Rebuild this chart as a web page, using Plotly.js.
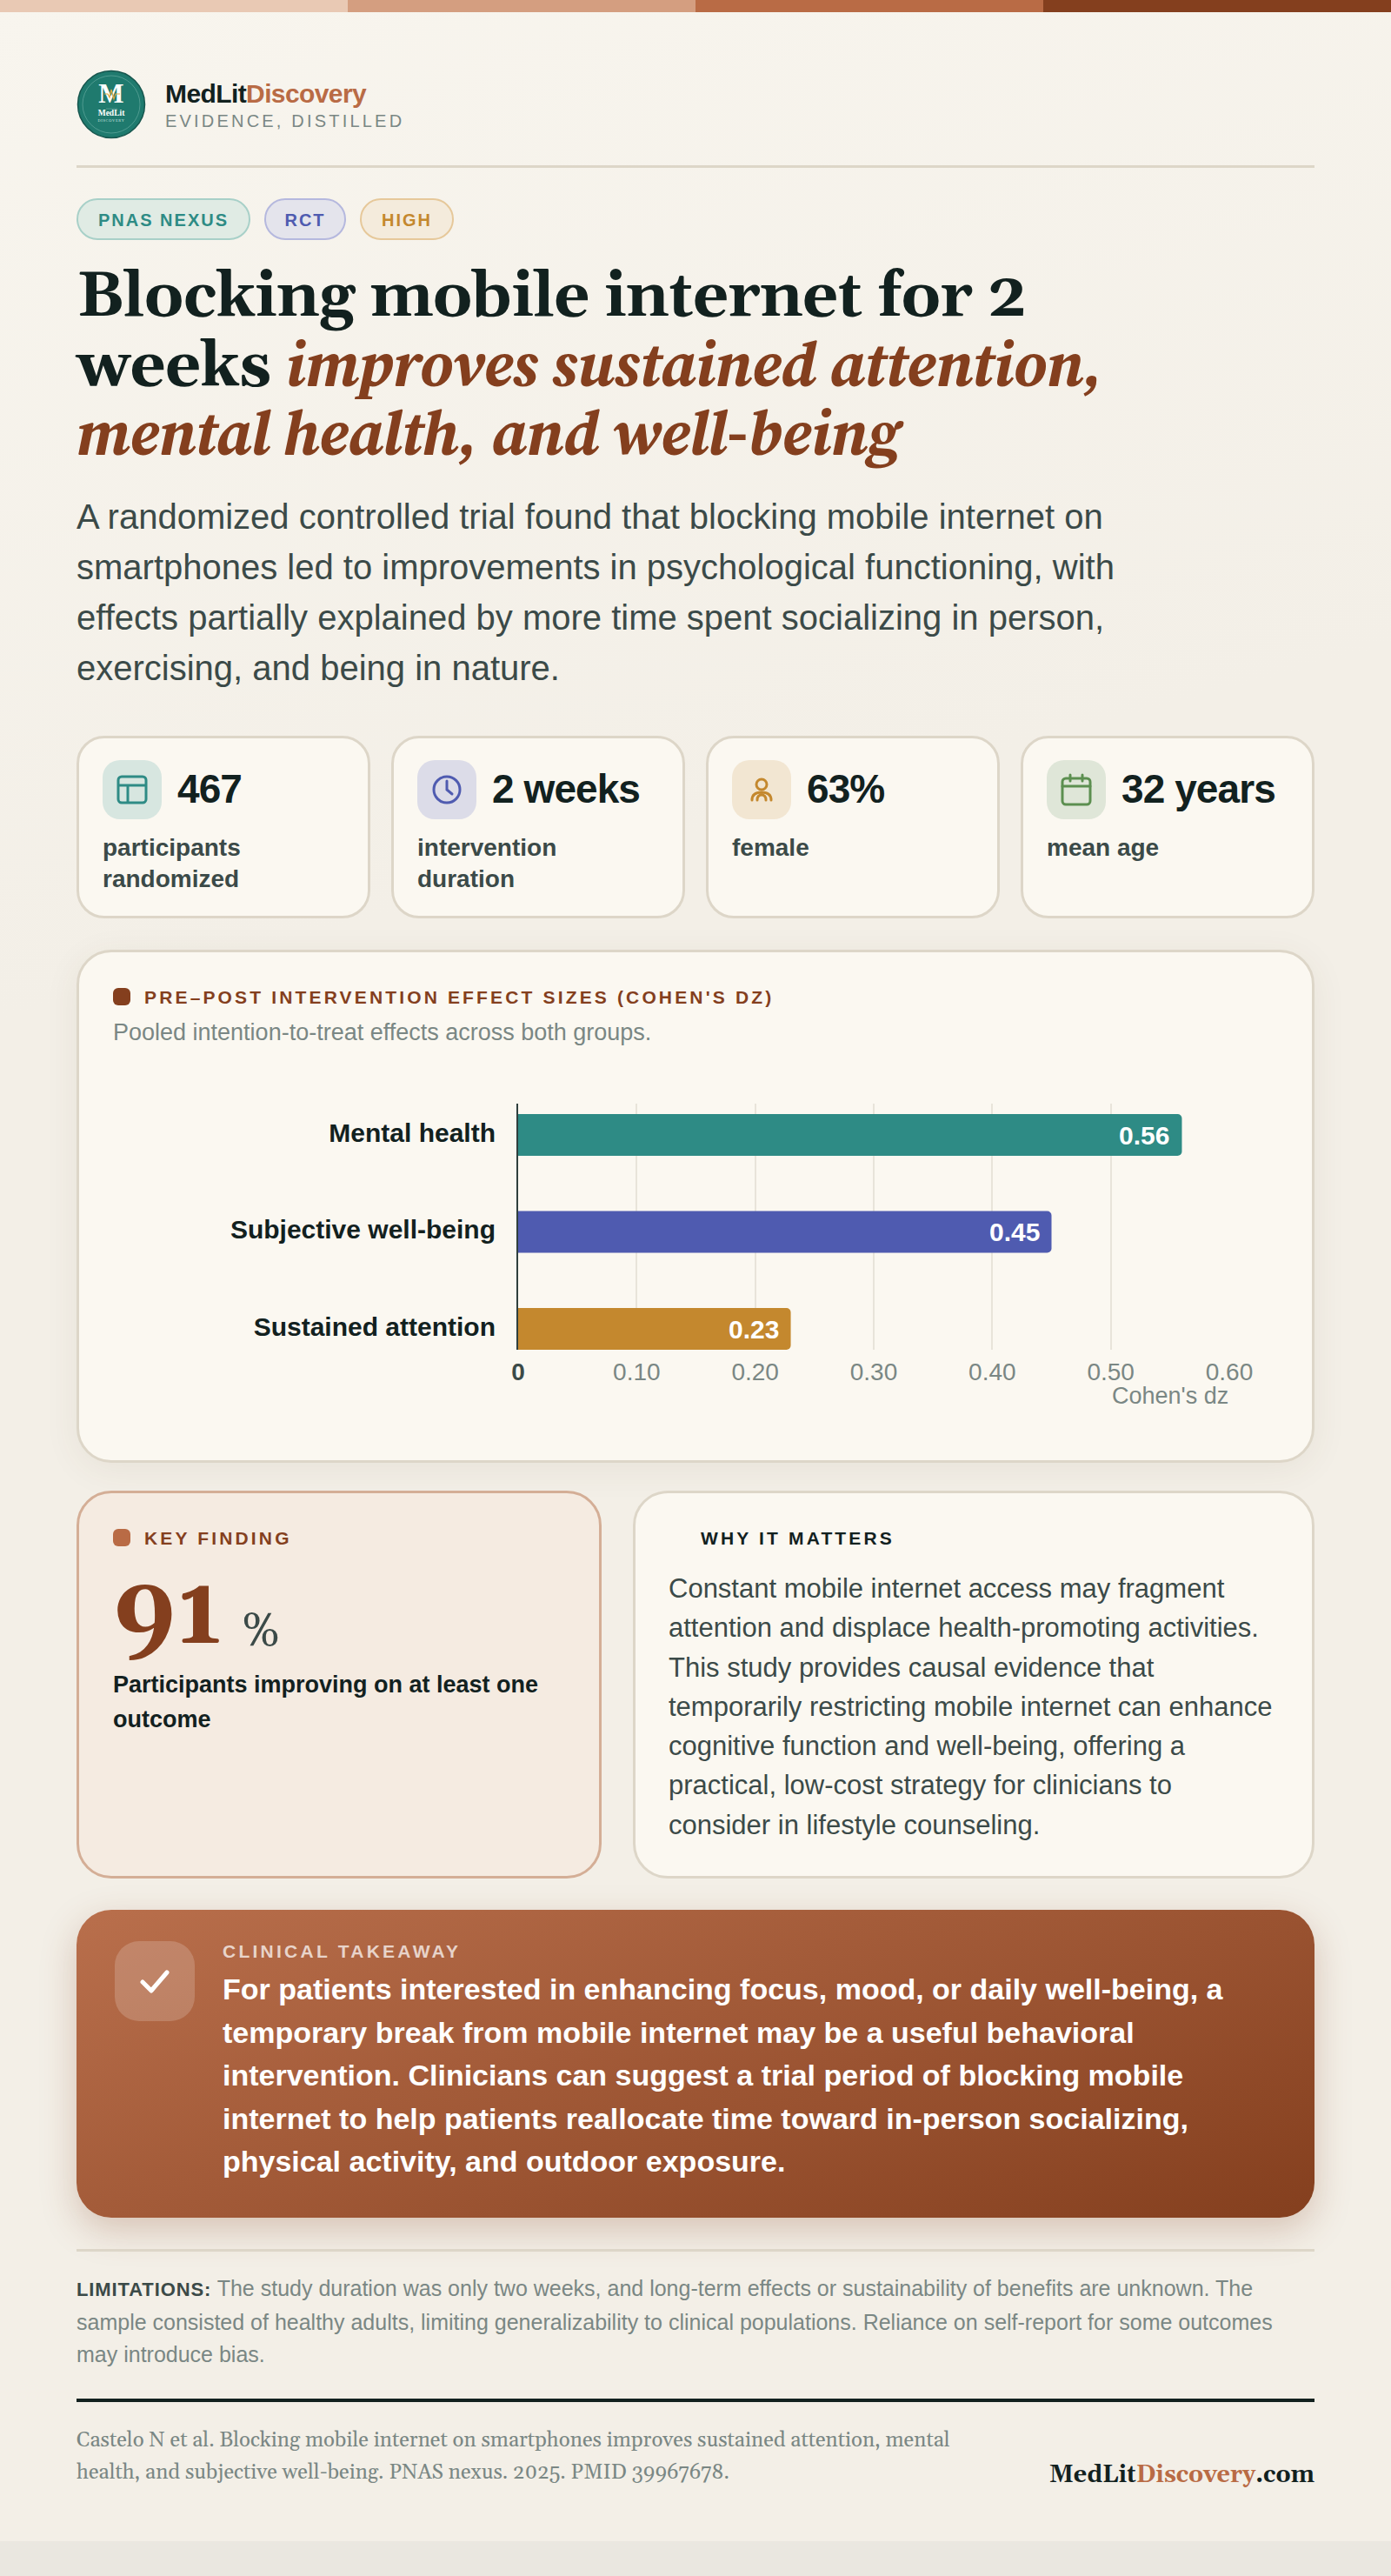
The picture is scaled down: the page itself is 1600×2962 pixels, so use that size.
<!DOCTYPE html>
<html lang="en">
<head>
<meta charset="utf-8">
<title>MedLitDiscovery - Blocking mobile internet</title>
<script src="https://cdn.plot.ly/plotly-3.0.1.min.js"></script>
<style>
  :root {
    --ink: #12211f; --body: #3b4a48; --muted: #7a8784; --line: #ddd6c8;
    --card: #fbf8f1; --rust: #843f1e; --clay: #b96b45;
    --teal: #2e8b85; --indigo: #4f5bb0; --amber: #c4882e; --green: #5c8f50;
    --sans: "Liberation Sans", Arial, sans-serif;
    --serif: Gelasio, Georgia, "Liberation Serif", serif;
  }
  * { box-sizing: border-box; }
  html, body { margin: 0; background: #eae7e0; font-family: var(--sans); }
  .page { position: relative; width: 1600px; height: 2922px; overflow: hidden;
          background: linear-gradient(165deg, #f8f5ee 0%, #f3efe7 35%, #f3efe7 100%); }
  .abs { position: absolute; }
  .bar { left: 0; top: 0; width: 1600px; height: 14px; display: flex; }
  .bar i { flex: 1; }

  .brand { left: 190px; top: 87px; font: bold 30px/42px var(--sans); letter-spacing: -0.02em; color: var(--ink); }
  .brand b { color: var(--clay); }
  .tagline { left: 190px; top: 126px; font: 20px/26px var(--sans); letter-spacing: 0.16em; color: var(--muted); }
  .rule { left: 88px; width: 1424px; height: 3px; background: var(--line); }

  .badge { top: 228px; height: 48px; border-radius: 24px; border: 2px solid; font: bold 20px/46px var(--sans);
           letter-spacing: 0.1em; text-align: center; }

  h1 { margin: 0; left: 88px; top: 303px; width: 1360px; font: bold 72px/79.5px var(--serif); letter-spacing: -0.01em; color: var(--ink); white-space: nowrap; }
  h1 em { color: var(--rust); font-family: "Source Serif 4", var(--serif); font-style: italic; font-weight: 700; line-height: 0; letter-spacing: -0.005em; }
  .lede { left: 88px; top: 565px; margin: 0; font: 40px/58px var(--sans); color: var(--body); white-space: nowrap; }

  .stat { top: 846px; width: 338px; height: 210px; background: var(--card); border: 3px solid var(--line); border-radius: 32px; }
  .stat .ico { position: absolute; left: 27px; top: 25px; width: 68px; height: 68px; border-radius: 20px;
               display: flex; align-items: center; justify-content: center; }
  .stat .num { position: absolute; left: 113px; top: 30px; font: bold 46px/56px var(--sans); letter-spacing: -0.02em; color: var(--ink); white-space: nowrap; }
  .stat .lab { position: absolute; left: 27px; top: 108px; font: bold 28px/36px var(--sans); color: var(--body); }

  .card { background: var(--card); border: 3px solid var(--line); border-radius: 40px; box-shadow: 0 8px 40px rgba(90, 70, 40, .07); }
  .dot { position: absolute; width: 20px; height: 20px; border-radius: 6px; }
  .eyebrow { position: absolute; font: bold 21px/28px var(--sans); letter-spacing: 0.15em; white-space: nowrap; }
  #chart { left: 90px; top: 1230px; width: 1420px; height: 420px; }

  .big { left: 130px; top: 1786px; font: bold 112px/140px var(--serif); color: var(--rust); }
  .pct { left: 278px; top: 1841px; font: 54px/70px var(--serif); color: var(--body); }
  .kdesc { left: 130px; top: 1917px; width: 530px; font: bold 27px/40px var(--sans); color: var(--ink); }
  .why { left: 769px; top: 1804px; width: 710px; font: 31px/45.3px var(--sans); color: var(--body); white-space: nowrap; }

  .take { left: 88px; top: 2196px; width: 1424px; height: 354px; border-radius: 40px;
          background: linear-gradient(160deg, #b96f4c 0%, #843f1e 100%);
          box-shadow: 0 14px 40px rgba(132, 63, 30, .25); }
  .tick { position: absolute; left: 44px; top: 36px; width: 92px; height: 92px; border-radius: 28px; background: rgba(255,255,255,.18);
          display: flex; align-items: center; justify-content: center; }
  .tlabel { position: absolute; left: 168px; top: 34px; font: bold 21px/28px var(--sans); letter-spacing: 0.155em; color: rgba(255,255,255,.72); }
  .ttext { position: absolute; left: 168px; top: 67px; font: bold 34px/49.5px var(--sans); color: #fff; white-space: nowrap; }

  .limits { left: 88px; top: 2613px; font: 25px/37.5px var(--sans); color: var(--muted); white-space: nowrap; }
  .limits b { font-size: 22px; letter-spacing: 0.04em; color: var(--body); }
  .cite { left: 88px; top: 2788px; font: 24px/37px var(--serif); color: var(--muted); white-space: nowrap; }
  .site { right: 88px; top: 2827px; font: bold 27px/38px var(--serif); color: var(--ink); }
  .site b { color: var(--clay); }
</style>
</head>
<body>
<div class="page">
  <div class="abs bar"><i style="background:#e9c9b4"></i><i style="background:#d49e80"></i><i style="background:#b96b45"></i><i style="background:#843f1e"></i></div>

  <svg class="abs" style="left:88px;top:80px" width="80" height="80" viewBox="0 0 80 80">
    <circle cx="40" cy="40" r="38.5" fill="#1f7a6e" stroke="#17564e" stroke-width="1.5"/>
    <circle cx="40" cy="40" r="33" fill="none" stroke="#6fb0a6" stroke-width=".6"/>
    <text x="40" y="38" text-anchor="middle" font-family="Liberation Serif" font-weight="bold" font-size="31" fill="#fff">M</text>
    <polyline points="32,28 36,28 38,32 40,23 43,34 45,28 50,28" fill="none" stroke="#e0a83c" stroke-width="1.2"/>
    <path d="M34 45H47" stroke="#6fb0a6" stroke-width=".6"/>
    <text x="40" y="53" text-anchor="middle" font-family="Liberation Serif" font-weight="bold" font-size="9.5" fill="#fff">MedLit</text>
    <text x="40" y="60" text-anchor="middle" font-family="Liberation Serif" font-size="4.4" letter-spacing=".7" fill="#d5e8e3">DISCOVERY</text>
  </svg>
  <div class="abs brand">MedLit<b style="font-weight:bold">Discovery</b></div>
  <div class="abs tagline">EVIDENCE, DISTILLED</div>
  <div class="abs rule" style="top:190px"></div>

  <div class="abs badge" style="left:88px;width:200px;color:#2e8b85;background:#e0ebe4;border-color:#a8d0c8">PNAS NEXUS</div>
  <div class="abs badge" style="left:304px;width:94px;color:#4f5bb0;background:#e4e4ec;border-color:#b5b8de">RCT</div>
  <div class="abs badge" style="left:414px;width:108px;color:#c4882e;background:#f4ebdc;border-color:#e6c89a">HIGH</div>

  <h1 class="abs">Blocking mobile internet for 2<br>weeks <em>improves sustained attention,<br>mental health, and well-being</em></h1>
  <p class="abs lede">A randomized controlled trial found that blocking mobile internet on<br>smartphones led to improvements in psychological functioning, with<br>effects partially explained by more time spent socializing in person,<br>exercising, and being in nature.</p>

  <div class="abs stat" style="left:88px">
    <div class="ico" style="background:#d7e6e0"><svg width="40" height="40" viewBox="0 0 40 40" fill="none" stroke="#2e8b85" stroke-width="3"><rect x="4" y="5" width="32" height="30" rx="4"/><path d="M4 15H36M15 15V35"/></svg></div>
    <div class="num">467</div><div class="lab">participants<br>randomized</div>
  </div>
  <div class="abs stat" style="left:450px">
    <div class="ico" style="background:#dcdce8"><svg width="40" height="40" viewBox="0 0 40 40" fill="none" stroke="#4f5bb0" stroke-width="3" stroke-linecap="round"><circle cx="20" cy="20" r="15"/><path d="M20 10V20L26 25"/></svg></div>
    <div class="num">2 weeks</div><div class="lab">intervention<br>duration</div>
  </div>
  <div class="abs stat" style="left:812px">
    <div class="ico" style="background:#f2e6d2"><svg width="40" height="40" viewBox="0 0 40 40" fill="none" stroke="#c4882e" stroke-width="3" stroke-linecap="round"><circle cx="20" cy="14" r="6"/><path d="M9 32C9 25 14 23 20 23S31 25 31 32M15 32C15 28 17 26 20 26S25 28 25 32"/></svg></div>
    <div class="num">63%</div><div class="lab">female</div>
  </div>
  <div class="abs stat" style="left:1174px">
    <div class="ico" style="background:#dfe6d8"><svg width="40" height="40" viewBox="0 0 40 40" fill="none" stroke="#5c8f50" stroke-width="3" stroke-linecap="round"><rect x="4" y="7" width="32" height="30" rx="4"/><path d="M4 16H36M13 3V10M27 3V10"/></svg></div>
    <div class="num">32 years</div><div class="lab">mean age</div>
  </div>

  <div class="abs card" style="left:88px;top:1092px;width:1424px;height:590px">
    <span class="dot" style="left:39px;top:41px;background:var(--rust)"></span>
    <span class="eyebrow" style="left:75px;top:38px;color:var(--rust)">PRE–POST INTERVENTION EFFECT SIZES (COHEN'S DZ)</span>
    <span class="abs" style="left:39px;top:74px;font:27px/36px var(--sans);color:var(--muted)">Pooled intention-to-treat effects across both groups.</span>
  </div>
  <div class="abs" id="chart"></div>

  <div class="abs card" style="left:88px;top:1714px;width:604px;height:446px;background:#f5ebe1;border-color:#d4ae96;box-shadow:none">
    <span class="dot" style="left:39px;top:41px;background:var(--clay)"></span>
    <span class="eyebrow" style="left:75px;top:38px;color:var(--rust)">KEY FINDING</span>
  </div>
  <div class="abs big">91</div>
  <div class="abs pct">%</div>
  <div class="abs kdesc">Participants improving on at least one outcome</div>

  <div class="abs card" style="left:728px;top:1714px;width:784px;height:446px;box-shadow:none">
    <span class="eyebrow" style="left:75px;top:38px;color:var(--ink)">WHY IT MATTERS</span>
  </div>
  <div class="abs why">Constant mobile internet access may fragment<br>attention and displace health-promoting activities.<br>This study provides causal evidence that<br>temporarily restricting mobile internet can enhance<br>cognitive function and well-being, offering a<br>practical, low-cost strategy for clinicians to<br>consider in lifestyle counseling.</div>

  <div class="abs take">
    <div class="tick"><svg width="44" height="44" viewBox="0 0 44 44" fill="none" stroke="#fff" stroke-width="5" stroke-linecap="round" stroke-linejoin="round"><path d="M8 23L18 33L36 12"/></svg></div>
    <div class="tlabel">CLINICAL TAKEAWAY</div>
    <div class="ttext">For patients interested in enhancing focus, mood, or daily well-being, a<br>temporary break from mobile internet may be a useful behavioral<br>intervention. Clinicians can suggest a trial period of blocking mobile<br>internet to help patients reallocate time toward in-person socializing,<br>physical activity, and outdoor exposure.</div>
  </div>

  <div class="abs rule" style="top:2586px"></div>
  <div class="abs limits"><b>LIMITATIONS:</b> The study duration was only two weeks, and long-term effects or sustainability of benefits are unknown. The<br>sample consisted of healthy adults, limiting generalizability to clinical populations. Reliance on self-report for some outcomes<br>may introduce bias.</div>
  <div class="abs rule" style="top:2758px;height:4px;background:var(--ink)"></div>
  <div class="abs cite">Castelo N et al. Blocking mobile internet on smartphones improves sustained attention, mental<br>health, and subjective well-being. PNAS nexus. 2025. PMID 39967678.</div>
  <div class="abs site">MedLit<b>Discovery</b>.com</div>
</div>

<script>
  // Effect sizes
  const outcomes = ["Mental health", "Subjective well-being", "Sustained attention"];
  const effectSizes = [0.56, 0.45, 0.23];
  const barColors = ["#2e8b85", "#4f5bb0", "#c4882e"];
  const tickValues = [0, 0.1, 0.2, 0.3, 0.4, 0.5, 0.6];
  const tickLabels = ['<b style="color:#3b4a48">0</b>', "0.10", "0.20", "0.30", "0.40", "0.50", "0.60"];

  const FONT = '"Liberation Sans", Arial, sans-serif';

  // Value labels sit inside the bar end, further in than textposition allows.
  const valueLabels = outcomes.map((name, i) => ({
    x: effectSizes[i], y: name, xanchor: "right", xshift: -12, showarrow: false,
    text: "<b>" + effectSizes[i].toFixed(2) + "</b>",
    font: { family: FONT, size: 30, color: "#fff" },
  }));

  Plotly.newPlot("chart", [{
    type: "bar", orientation: "h", x: effectSizes, y: outcomes, width: 0.43,
    marker: { color: barColors, cornerradius: 5 },
    hoverinfo: "skip",
  }], {
    width: 1420, height: 420,
    margin: { l: 506, r: 96, t: 39, b: 98 },
    paper_bgcolor: "rgba(0,0,0,0)",
    plot_bgcolor: "rgba(0,0,0,0)",
    font: { family: FONT },
    showlegend: false,
    xaxis: {
      range: [0, 0.6], tickmode: "array", tickvals: tickValues, ticktext: tickLabels,
      showgrid: true, gridcolor: "#e8e4da", gridwidth: 2, zeroline: false, showline: false,
      ticks: "", ticklabelstandoff: 6, tickfont: { size: 28, color: "#7a8784" },
    },
    yaxis: {
      type: "category", categoryorder: "array", categoryarray: outcomes, range: [2.215, -0.323],
      showgrid: false, zeroline: false, showline: true, linecolor: "#2f3f3d", linewidth: 2,
      ticks: "", ticklabelstandoff: 18, ticklabelshift: 3, tickfont: { size: 30, color: "#12211f", weight: "bold" },
    },
    annotations: valueLabels.concat([{
      xref: "x", yref: "paper", x: 0.6, y: 0, xanchor: "right", yanchor: "top", yshift: -36, xshift: 1,
      showarrow: false, text: "Cohen's dz", font: { family: FONT, size: 27, color: "#7a8784" },
    }]),
  }, { displayModeBar: false, staticPlot: true });
</script>
</body>
</html>
